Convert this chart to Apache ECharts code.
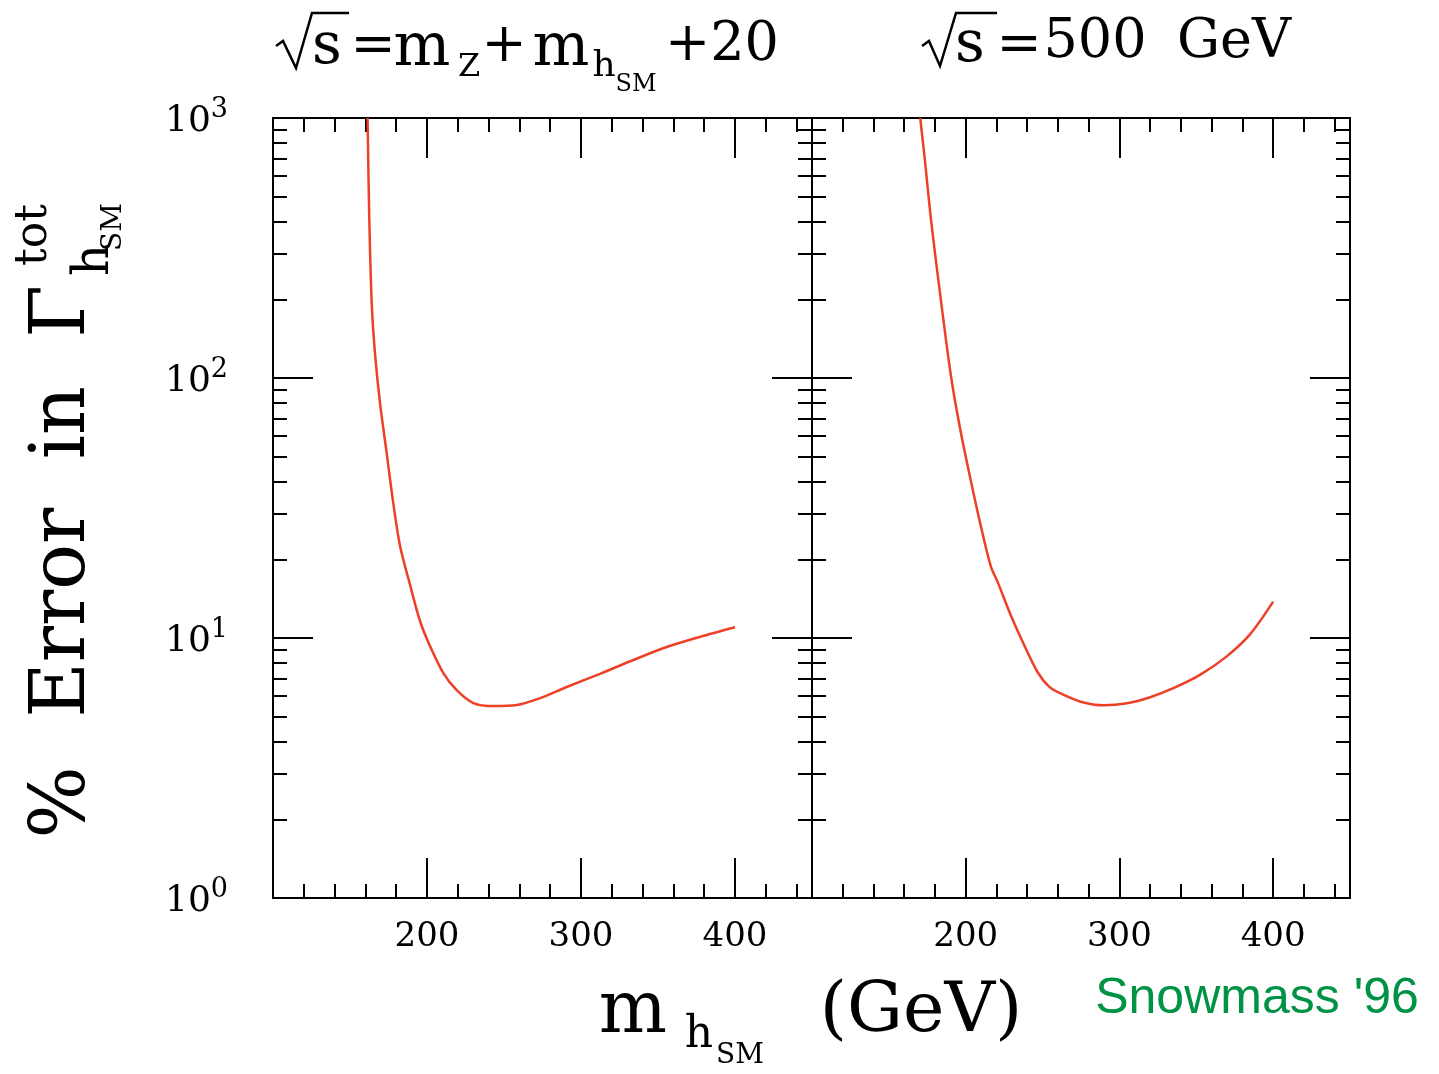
<!DOCTYPE html>
<html>
<head>
<meta charset="utf-8">
<script src="https://cdn.jsdelivr.net/npm/echarts@6/dist/echarts.min.js"></script>
<style>
  html, body { margin: 0; padding: 0; background: #fff; }
  #chart { width: 1439px; height: 1074px; }
</style>
</head>
<body>
<div id="chart"></div>
<script>
// (m_h in GeV, % error)
const leftMass = [161.4, 162.5, 164.1, 166.2, 169.5, 173.8, 178.1, 182.5, 189, 195.5, 202, 210.6, 219.3, 230.1, 243.1, 258.2, 273.4, 290.7, 312.3, 334, 355.6, 377.3, 400];
const leftError = [1000, 416, 194, 125, 80, 51.5, 33, 22.6, 16, 11.6, 9.3, 7.33, 6.3, 5.62, 5.47, 5.52, 5.87, 6.48, 7.28, 8.23, 9.23, 10.1, 11.0];
const rightMass = [170.4, 173.3, 177.6, 184.1, 190.6, 197, 203.5, 210, 216.4, 220.8, 229.4, 238, 246.7, 254.2, 261.7, 274.7, 289.8, 304.9, 320, 335.1, 352.4, 369.6, 384.8, 400];
const rightError = [1000, 701, 398, 194, 100, 61, 39.8, 26.7, 18.8, 16.4, 12.2, 9.4, 7.4, 6.5, 6.12, 5.69, 5.51, 5.61, 5.92, 6.41, 7.21, 8.48, 10.3, 13.8];

const xMajorTicks = [200, 300, 400];
const xMinorTicks = [120, 140, 160, 180, 220, 240, 260, 280, 320, 340, 360, 380, 420, 440];
const xTickLabels = [200, 300, 400];
const yDecades = [0, 1, 2, 3];
const yMinorTicks = [2, 3, 4, 5, 6, 7, 8, 9, 20, 30, 40, 50, 60, 70, 80, 90, 200, 300, 400, 500, 600, 700, 800, 900];

const serif = '"DejaVu Serif", serif';
const ink = '#000';
const curveColor = '#EE4026';

const panels = [
  { left: 273, width: 539, mass: leftMass, err: leftError },
  { left: 812, width: 538, mass: rightMass, err: rightError }
];

const tickLine = { color: ink, width: 2 };
const frameLine = { show: true, onZero: false, lineStyle: { color: ink, width: 2 } };

const grid = [], xAxis = [], yAxis = [], series = [];

panels.forEach((p, g) => {
  grid.push({ left: p.left, top: 118, width: p.width, height: 780, containLabel: false });

  ['bottom', 'top'].forEach(pos => {
    xAxis.push({
      type: 'value', gridIndex: g, position: pos, min: 100, max: 450,
      axisLine: frameLine,
      splitLine: { show: false },
      axisTick: { inside: true, length: 40, customValues: xMajorTicks, lineStyle: tickLine },
      axisLabel: pos === 'bottom'
        ? { customValues: xTickLabels, margin: 22, color: ink, fontFamily: serif, fontSize: 34 }
        : { show: false }
    });
    xAxis.push({
      type: 'value', gridIndex: g, position: pos, min: 100, max: 450,
      axisLine: { show: false, onZero: false },
      splitLine: { show: false },
      axisTick: { inside: true, length: 14, customValues: xMinorTicks, lineStyle: tickLine },
      axisLabel: { show: false }
    });
  });

  // data axis (log), hidden
  yAxis.push({ type: 'log', logBase: 10, gridIndex: g, min: 1, max: 1000, show: false });

  // frame / tick axes in log10 space
  ['left', 'right'].forEach(pos => {
    const labelled = g === 0 && pos === 'left';
    yAxis.push({
      type: 'value', gridIndex: g, position: pos, min: 0, max: 3,
      axisLine: frameLine,
      splitLine: { show: false },
      axisTick: { inside: true, length: 40, customValues: yDecades, lineStyle: tickLine },
      axisLabel: labelled ? {
        customValues: yDecades, margin: 45, color: ink,
        formatter: v => '{b|10}{e|' + v + '}',
        rich: {
          b: { fontFamily: serif, fontSize: 36, lineHeight: 44, verticalAlign: 'bottom', color: ink },
          e: { fontFamily: serif, fontSize: 27, verticalAlign: 'top', color: ink }
        }
      } : { show: false }
    });
    yAxis.push({
      type: 'value', gridIndex: g, position: pos, min: 0, max: 3,
      axisLine: { show: false, onZero: false },
      splitLine: { show: false },
      axisTick: { inside: true, length: 14, customValues: yMinorTicks.map(Math.log10), lineStyle: tickLine },
      axisLabel: { show: false }
    });
  });

  series.push({
    type: 'line', xAxisIndex: g * 4, yAxisIndex: g * 5,
    data: p.mass.map((m, i) => [m, p.err[i]]),
    showSymbol: false, smooth: 0.3, clip: true,
    lineStyle: { color: curveColor, width: 2.5 }
  });
});

function txt(text, x, y, size, extra) {
  return Object.assign({
    type: 'text', x, y,
    style: { text, font: size + 'px ' + serif, fill: ink, align: 'center', verticalAlign: 'middle', textAlign: 'center', textVerticalAlign: 'middle' }
  }, extra || {});
}
function radical(pts) {
  return { type: 'polyline', shape: { points: pts }, style: { stroke: ink, lineWidth: 2.5, fill: null } };
}

const graphic = [
  // left title
  radical([[276, 46], [283, 41], [296, 68], [312, 13], [349, 13]]),
  txt('s', 327, 48, 58),
  txt('=', 373, 48, 54),
  txt('m', 422, 49, 60),
  txt('Z', 469, 68, 32),
  txt('+', 504, 47, 54),
  txt('m', 561, 49, 60),
  txt('h', 604, 67, 36),
  txt('SM', 636, 85, 24),
  txt('+20', 722, 46, 54),
  // right title
  radical([[922, 46], [929, 41], [940, 66], [956, 13], [997, 13]]),
  txt('s', 970, 46, 58),
  txt('=', 1019, 47, 54),
  txt('500', 1095, 43, 54),
  txt('GeV', 1234, 43, 54),
  // x axis title
  txt('m', 633, 1013, 72),
  txt('h', 699, 1036, 44),
  txt('SM', 740, 1056, 28),
  txt('(GeV)', 921, 1013, 70),
  // y axis title, rotated
  {
    type: 'group', x: 62, y: 520, rotation: Math.PI / 2,
    children: [
      { type: 'text', x: 235, y: 2, style: { text: '%  Error  in  Γ', font: '76px ' + serif, fill: ink, align: 'right', verticalAlign: 'middle', textAlign: 'right', textVerticalAlign: 'middle' } },
      txt('tot', 285, -27, 44),
      txt('h', 260, 33, 50),
      txt('SM', 293, 52, 28)
    ]
  },
  {
    type: 'text', x: 1257, y: 999,
    style: { text: "Snowmass '96", font: '50px "Liberation Sans", Arial, sans-serif', fill: '#009245', align: 'center', verticalAlign: 'middle', textAlign: 'center', textVerticalAlign: 'middle' }
  }
];

const chart = echarts.init(document.getElementById('chart'), null, { renderer: 'canvas' });
chart.setOption({
  backgroundColor: '#fff',
  animation: false,
  grid, xAxis, yAxis, series, graphic
});
</script>
</body>
</html>
